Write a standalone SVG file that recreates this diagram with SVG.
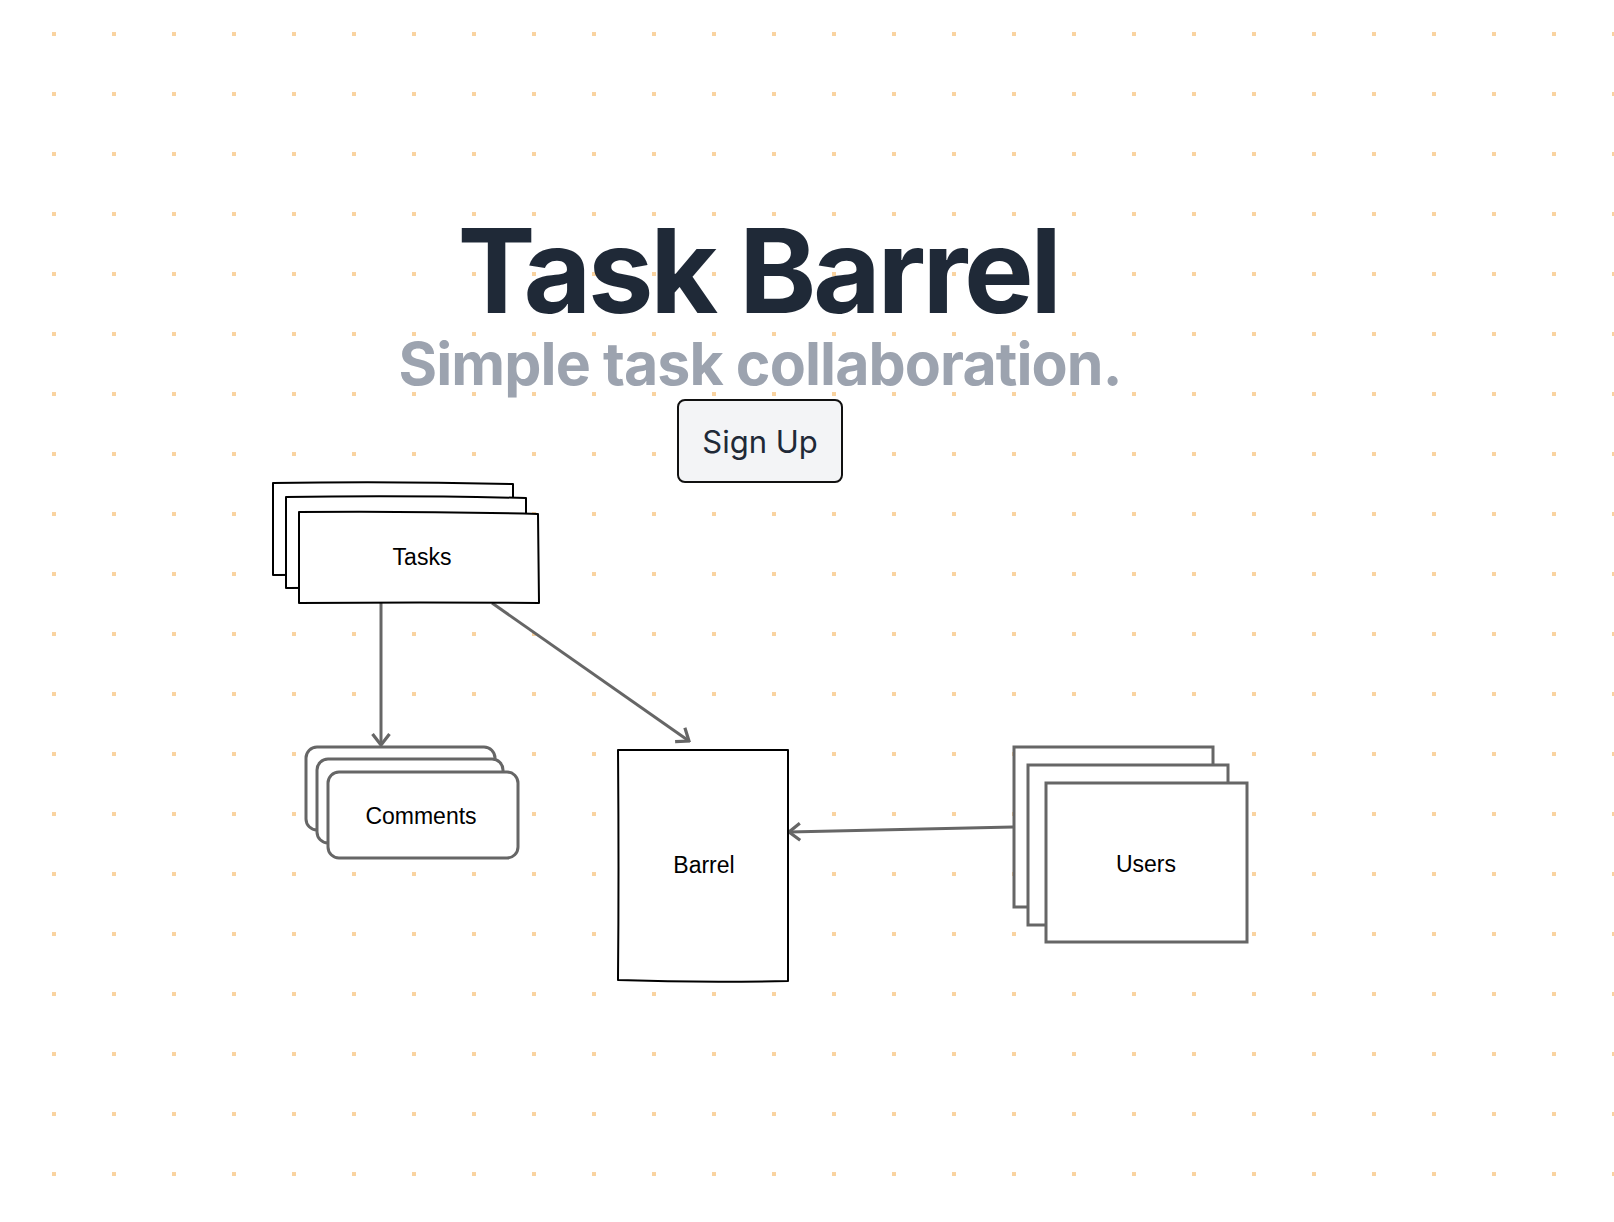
<svg xmlns="http://www.w3.org/2000/svg" width="1614" height="1222" viewBox="0 0 1614 1222">
<defs>
<pattern id="dots" x="0" y="0" width="60" height="60" patternUnits="userSpaceOnUse">
<rect x="52" y="32" width="4" height="4" fill="#f9d3a0"/>
</pattern>
<marker id="arrow" viewBox="0 0 20 20" refX="18" refY="10" markerWidth="20" markerHeight="20" markerUnits="userSpaceOnUse" orient="auto">
<path d="M7,1.5 L18,10 L7,18.5" fill="none" stroke="#666666" stroke-width="3.2"/>
</marker>
<style>
.sk{fill:#ffffff;stroke:#000000;stroke-width:2;stroke-linejoin:round}
.gr{fill:#ffffff;stroke:#666666;stroke-width:3}
.lbl{font-family:"Liberation Sans",Arial,sans-serif;font-size:23px;fill:#000000;text-anchor:middle}
.conn{fill:none;stroke:#666666;stroke-width:3;marker-end:url(#arrow)}
</style>
</defs>
<rect width="1614" height="1222" fill="#ffffff"/>
<rect width="1614" height="1222" fill="url(#dots)"/>

<g id="header">
<text x="758" y="313" font-family="Inter,'Noto Sans',sans-serif" font-weight="700" font-size="117" fill="#1f2937" text-anchor="middle" letter-spacing="-3.4">Task Barrel</text>
<text x="760" y="385" font-family="Inter,'Noto Sans',sans-serif" font-weight="700" font-size="59" fill="#9ca3af" text-anchor="middle" letter-spacing="-0.9">Simple task collaboration.</text>
</g>

<g id="signup">
<rect x="678" y="400" width="164" height="82" rx="7" fill="#f3f4f6" stroke="#111111" stroke-width="2"/>
<text x="760" y="453" font-family="Inter,'Noto Sans',sans-serif" font-size="31" fill="#1f2937" text-anchor="middle">Sign Up</text>
</g>

<g id="connectors">
<path class="conn" d="M381,603 L381,745"/>
<path class="conn" d="M492,603 L689,741"/>
<path class="conn" d="M1013,827 L789,832"/>
</g>

<g id="tasks">
<path class="sk" d="M273,483 Q390,481 513,484 L513,575 Q395,574 273,575 Z"/>
<path class="sk" d="M286,497 Q400,495 526,498 L526,588 Q405,587 286,588 Z"/>
<path class="sk" d="M299,512 Q420,511 538,514 L539,603 Q420,602 299,603 Z"/>
<text class="lbl" x="422" y="565">Tasks</text>
</g>

<g id="comments">
<rect class="gr" x="306" y="747" width="189" height="83" rx="11"/>
<rect class="gr" x="317" y="759" width="186" height="84" rx="11"/>
<rect class="gr" x="328" y="772" width="190" height="86" rx="11"/>
<text class="lbl" x="421" y="824">Comments</text>
</g>

<g id="barrel">
<path class="sk" d="M618,750 L788,750 L788,981 Q700,983 618,980 Q619,870 618,750 Z"/>
<text class="lbl" x="704" y="873">Barrel</text>
</g>

<g id="users">
<rect class="gr" x="1014" y="747" width="199" height="160"/>
<rect class="gr" x="1028" y="765" width="200" height="160"/>
<rect class="gr" x="1046" y="783" width="201" height="159"/>
<text class="lbl" x="1146" y="872">Users</text>
</g>
</svg>
